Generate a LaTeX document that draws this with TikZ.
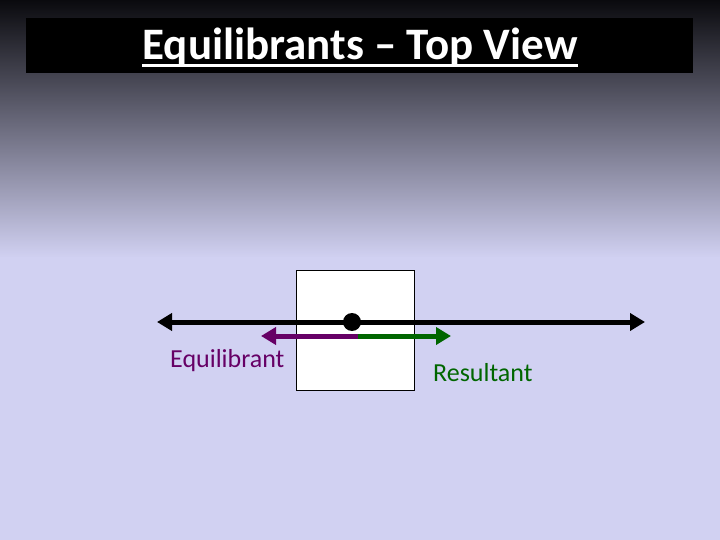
\documentclass[tikz,border=0pt]{standalone}
\usepackage{fontspec}
\setmainfont{Carlito}
\usetikzlibrary{arrows.meta,positioning}
\definecolor{slidetop}{RGB}{10,10,14}
\definecolor{slidebot}{RGB}{209,209,242}
\definecolor{eqpurple}{RGB}{102,0,102}
\definecolor{resgreen}{RGB}{0,102,0}
\tikzset{
  force/.style={line width=5bp,-{Triangle[length=15bp,width=17bp]}},
  label/.style={inner sep=0pt,anchor=base west,font=\fontsize{26bp}{30bp}\selectfont}
}
\begin{document}
\begin{tikzpicture}[x=1bp,y=-1bp]
    % background
    \useasboundingbox (0,0) rectangle (720,540);
    \shade[top color=slidetop,bottom color=slidebot] (0,0) rectangle (720,258);
    \fill[slidebot] (0,257) rectangle (720,540);
    % title bar
    \fill[black] (26,18) rectangle (693,73);
    \node[text=white,inner sep=0pt,anchor=base,font=\bfseries\fontsize{45bp}{50bp}\selectfont] (title) at (360,60) {Equilibrants -- Top View};
    \draw[white,line width=2.5bp] ([yshift=-5.5bp]title.base west) -- ([yshift=-5.5bp]title.base east);
    % the object seen from above
    \node[draw=black,fill=white,line width=0.8bp,minimum width=118bp,minimum height=120bp,inner sep=0pt] (box) at (355,330) {};
    \coordinate (lineL) at (157,322);
    \coordinate (lineR) at (645,322);
    \draw[line width=5bp,{Triangle[length=15bp,width=17bp]}-{Triangle[length=15bp,width=17bp]}] (lineL) -- (lineR);
    \node[circle,fill=black,minimum size=18bp,inner sep=0pt] (pt) at (352,322) {};
    % the two forces
    \coordinate (mid) at (358,336);
    \coordinate (eqend) at (261,336);
    \coordinate (resend) at (451,336);
    \draw[force,eqpurple] (mid) -- (eqend);
    \draw[force,resgreen] (mid) -- (resend);
    \node[label,text=eqpurple] (eqlabel) at (170,367) {Equilibrant};
    \node[label,text=resgreen] (reslabel) at (433,381) {Resultant};
\end{tikzpicture}
\end{document}
